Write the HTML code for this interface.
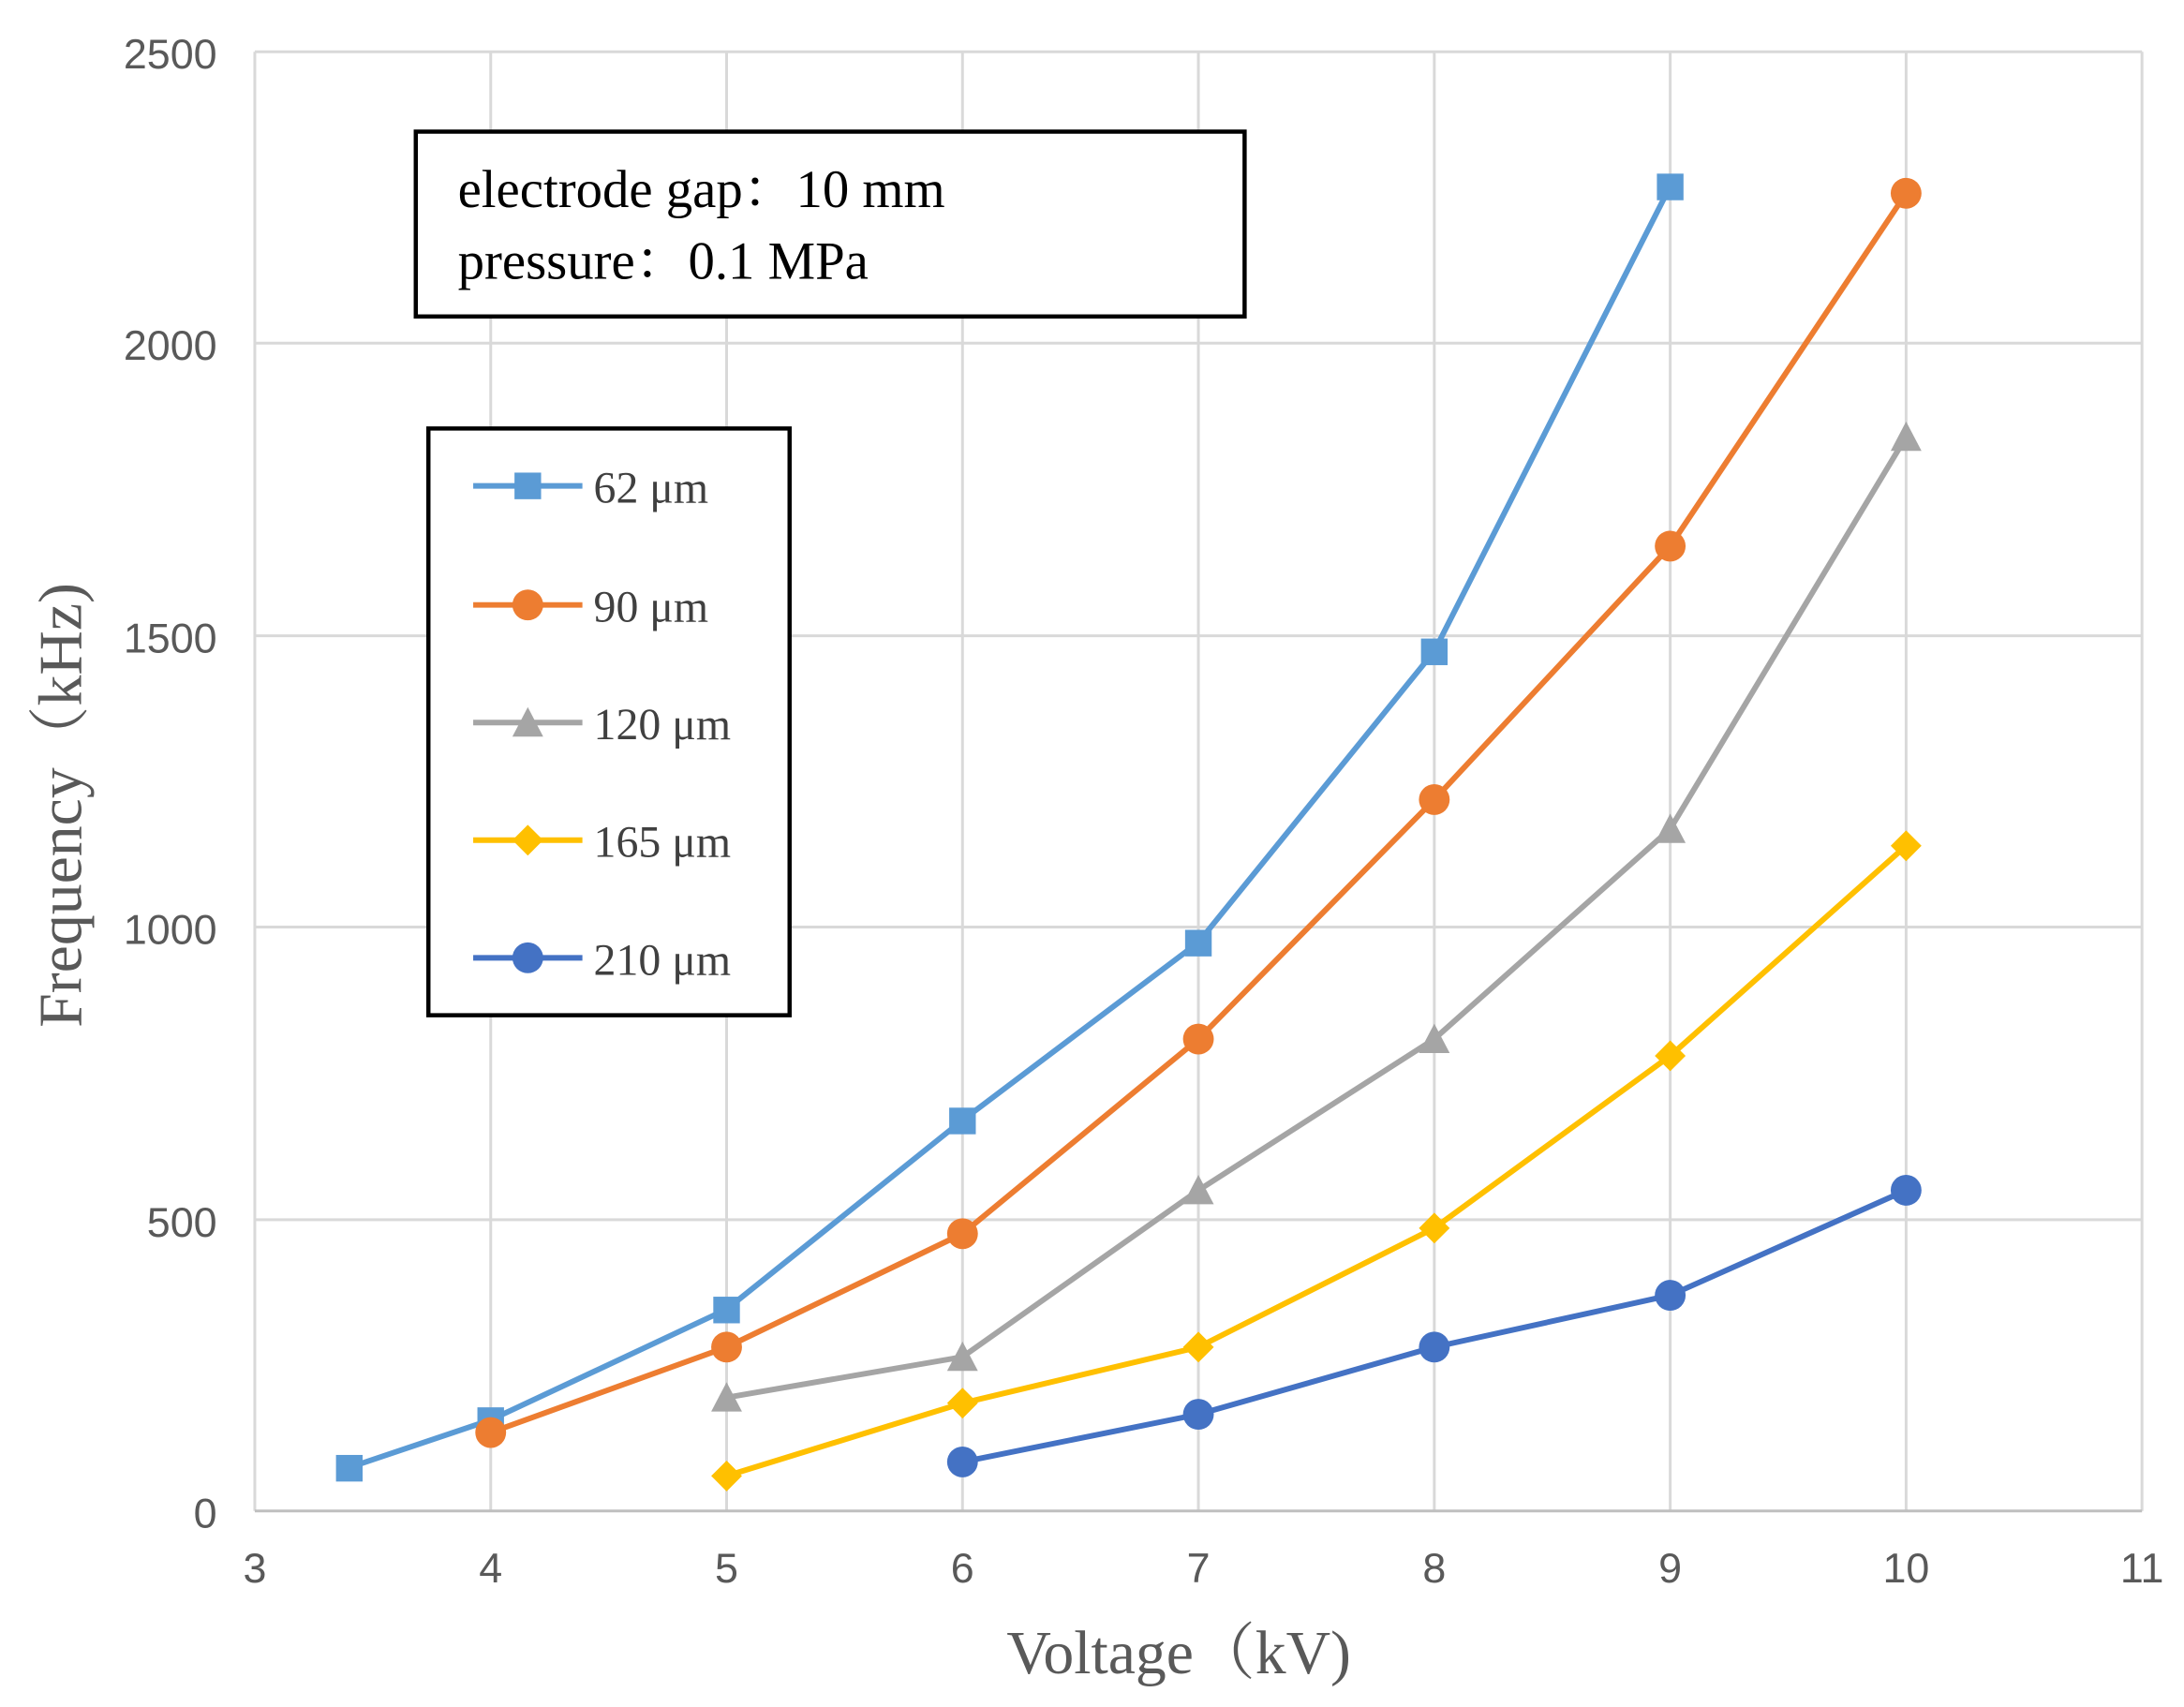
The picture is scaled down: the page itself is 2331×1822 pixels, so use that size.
<!DOCTYPE html>
<html><head><meta charset="utf-8"><style>html,body{margin:0;padding:0;background:#fff}svg{display:block}</style></head>
<body>
<svg width="2331" height="1822" viewBox="0 0 1560 1219" preserveAspectRatio="none" xmlns="http://www.w3.org/2000/svg">
<rect width="1560" height="1219" fill="#fff"/>
<g stroke="#d9d9d9" stroke-width="2">
<line x1="182" y1="37" x2="1530" y2="37"/>
<line x1="182" y1="245" x2="1530" y2="245"/>
<line x1="182" y1="454" x2="1530" y2="454"/>
<line x1="182" y1="662" x2="1530" y2="662"/>
<line x1="182" y1="871" x2="1530" y2="871"/>
<line x1="182" y1="37" x2="182" y2="1079"/>
<line x1="350.5" y1="37" x2="350.5" y2="1079"/>
<line x1="519" y1="37" x2="519" y2="1079"/>
<line x1="687.5" y1="37" x2="687.5" y2="1079"/>
<line x1="856" y1="37" x2="856" y2="1079"/>
<line x1="1024.5" y1="37" x2="1024.5" y2="1079"/>
<line x1="1193" y1="37" x2="1193" y2="1079"/>
<line x1="1361.5" y1="37" x2="1361.5" y2="1079"/>
<line x1="1530" y1="37" x2="1530" y2="1079"/>
</g>
<line x1="182" y1="1079" x2="1530" y2="1079" stroke="#bfbfbf" stroke-width="2"/>
<g font-family="Liberation Sans, sans-serif" font-size="30" fill="#595959" text-anchor="end">
<text x="155" y="49">2500</text><text x="155" y="257">2000</text><text x="155" y="466">1500</text>
<text x="155" y="674">1000</text><text x="155" y="883">500</text><text x="155" y="1091">0</text>
</g>
<g font-family="Liberation Sans, sans-serif" font-size="30" fill="#595959" text-anchor="middle">
<text x="182" y="1130">3</text><text x="350.5" y="1130">4</text><text x="519" y="1130">5</text><text x="687.5" y="1130">6</text>
<text x="856" y="1130">7</text><text x="1024.5" y="1130">8</text><text x="1193" y="1130">9</text><text x="1361.5" y="1130">10</text><text x="1530" y="1130">11</text>
</g>
<text x="842" y="1195" font-family="Liberation Serif, 'Noto Serif CJK SC', serif" font-size="44" fill="#595959" text-anchor="middle">Voltage（kV)</text>
<text transform="translate(58,575) rotate(-90)" font-family="Liberation Serif, 'Noto Serif CJK SC', serif" font-size="44" fill="#595959" text-anchor="middle">Frequency（kHz)</text>
<g fill="none" stroke-width="4" stroke-linejoin="round">
<polyline stroke="#5B9BD5" points="249.4,1048 350.5,1014 519,935 687.5,800 856,673 1024.5,465 1193,133"/>
<polyline stroke="#ED7D31" points="350.5,1023 519,962 687.5,881 856,742 1024.5,571 1193,390 1361.5,138"/>
<polyline stroke="#A5A5A5" points="519,998 687.5,969 856,850 1024.5,742 1193,592 1361.5,312"/>
<polyline stroke="#FFC000" points="519,1054 687.5,1002 856,962 1024.5,877 1193,754 1361.5,604"/>
<polyline stroke="#4472C4" points="687.5,1044 856,1010 1024.5,962 1193,925 1361.5,850"/>
</g>
<g fill="#5B9BD5">
<rect x="240" y="1039" width="19" height="19"/><rect x="341" y="1005" width="19" height="19"/><rect x="509.5" y="926" width="19" height="19"/><rect x="678" y="791" width="19" height="19"/><rect x="846.5" y="664" width="19" height="19"/><rect x="1015" y="456" width="19" height="19"/><rect x="1183.5" y="124" width="19" height="19"/>
</g>
<g fill="#ED7D31">
<circle cx="350.5" cy="1023" r="11"/><circle cx="519" cy="962" r="11"/><circle cx="687.5" cy="881" r="11"/><circle cx="856" cy="742" r="11"/><circle cx="1024.5" cy="571" r="11"/><circle cx="1193" cy="390" r="11"/><circle cx="1361.5" cy="138" r="11"/>
</g>
<g fill="#A5A5A5">
<polygon points="519,987 530,1008 508,1008"/><polygon points="687.5,958 698.5,979 676.5,979"/><polygon points="856,839 867,860 845,860"/><polygon points="1024.5,731 1035.5,752 1013.5,752"/><polygon points="1193,581 1204,602 1182,602"/><polygon points="1361.5,301 1372.5,322 1350.5,322"/>
</g>
<g fill="#FFC000">
<polygon points="519,1043 530,1054 519,1065 508,1054"/><polygon points="687.5,991 698.5,1002 687.5,1013 676.5,1002"/><polygon points="856,951 867,962 856,973 845,962"/><polygon points="1024.5,866 1035.5,877 1024.5,888 1013.5,877"/><polygon points="1193,743 1204,754 1193,765 1182,754"/><polygon points="1361.5,593 1372.5,604 1361.5,615 1350.5,604"/>
</g>
<g fill="#4472C4">
<circle cx="687.5" cy="1044" r="11"/><circle cx="856" cy="1010" r="11"/><circle cx="1024.5" cy="962" r="11"/><circle cx="1193" cy="925" r="11"/><circle cx="1361.5" cy="850" r="11"/>
</g>
<rect x="297" y="94" width="592" height="132" fill="#fff" stroke="#000" stroke-width="3"/>
<g font-family="Liberation Serif, 'Noto Serif CJK SC', serif" font-size="38" fill="#000">
<text x="327" y="148">electrode gap：10 mm</text>
<text x="327" y="199">pressure：0.1 MPa</text>
</g>
<rect x="306" y="306" width="258" height="419" fill="#fff" stroke="#000" stroke-width="3"/>
<g stroke-width="4">
<line x1="338" y1="347" x2="416" y2="347" stroke="#5B9BD5"/>
<line x1="338" y1="432" x2="416" y2="432" stroke="#ED7D31"/>
<line x1="338" y1="516" x2="416" y2="516" stroke="#A5A5A5"/>
<line x1="338" y1="600" x2="416" y2="600" stroke="#FFC000"/>
<line x1="338" y1="684" x2="416" y2="684" stroke="#4472C4"/>
</g>
<rect x="367.5" y="337.5" width="19" height="19" fill="#5B9BD5"/>
<circle cx="377" cy="432" r="11" fill="#ED7D31"/>
<polygon points="377,505 388,526 366,526" fill="#A5A5A5"/>
<polygon points="377,589 388,600 377,611 366,600" fill="#FFC000"/>
<circle cx="377" cy="684" r="11" fill="#4472C4"/>
<g font-family="Liberation Serif, serif" font-size="32" fill="#404040">
<text x="424" y="359">62 μm</text><text x="424" y="444">90 μm</text><text x="424" y="528">120 μm</text><text x="424" y="612">165 μm</text><text x="424" y="696">210 μm</text>
</g>
</svg>
</body></html>
